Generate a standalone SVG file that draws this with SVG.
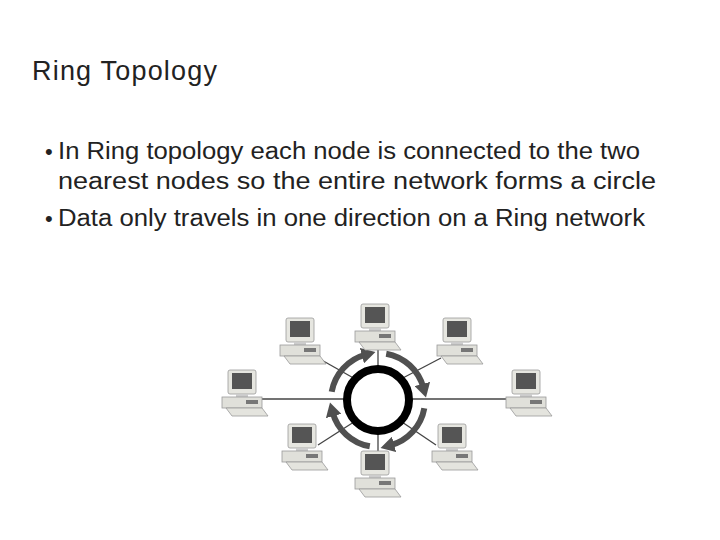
<svg xmlns="http://www.w3.org/2000/svg" width="720" height="540" viewBox="0 0 720 540">
<style>
.t{font-family:"Liberation Sans",Arial,sans-serif;fill:#222}
.arc{fill:none;stroke:#505050;stroke-width:6}
.ln{stroke:#444;stroke-width:1.3}
</style>
<defs>
<marker id="ah" markerUnits="userSpaceOnUse" markerWidth="16" markerHeight="16" refX="4" refY="8" orient="auto"><path d="M0,0 L14,8 L0,16 Z" fill="#505050"/></marker>
<g id="pc">
<rect x="-14" y="-24" width="28" height="24" rx="2" fill="#e6e6e0" stroke="#999" stroke-width="0.8"/>
<rect x="-10" y="-21" width="20" height="16" fill="#555"/>
<rect x="-6" y="0" width="12" height="3" fill="#ccc"/>
<rect x="-20" y="3" width="40" height="11" fill="#e0e0da" stroke="#999" stroke-width="0.8"/>
<rect x="4" y="6" width="12" height="4" fill="#777"/>
<path d="M-16,14 L20,14 L26,22 L-10,22 Z" fill="#e4e4de" stroke="#999" stroke-width="0.8"/>
</g>
</defs>
<rect width="720" height="540" fill="#fff"/>
<text class="t" x="32" y="80" font-size="27" textLength="185">Ring Topology</text>
<text class="t" x="45" y="159" font-size="22">•</text>
<text class="t" x="58" y="159" font-size="23" textLength="582" lengthAdjust="spacingAndGlyphs">In Ring topology each node is connected to the two</text>
<text class="t" x="58" y="189" font-size="23" textLength="598" lengthAdjust="spacingAndGlyphs">nearest nodes so the entire network forms a circle</text>
<text class="t" x="45" y="226" font-size="22">•</text>
<text class="t" x="58" y="226" font-size="23" textLength="587" lengthAdjust="spacingAndGlyphs">Data only travels in one direction on a Ring network</text>
<g id="connectors">
<line class="ln" x1="258" y1="399" x2="350" y2="399"/>
<line class="ln" x1="406" y1="399" x2="510" y2="399"/>
<line class="ln" x1="378" y1="340" x2="378" y2="372" stroke-width="2.5"/>
<line class="ln" x1="378" y1="428" x2="378" y2="452" stroke-width="2.5"/>
<line class="ln" x1="318" y1="358" x2="357" y2="380" stroke-width="1"/>
<line class="ln" x1="441" y1="358" x2="399" y2="380" stroke-width="1"/>
<line class="ln" x1="318" y1="445" x2="357" y2="420" stroke-width="1"/>
<line class="ln" x1="436" y1="445" x2="399" y2="420" stroke-width="1"/>
<path class="arc" d="M331.7,391.8 A47,47 0 0 1 365.8,354.6" marker-end="url(#ah)"/>
<path class="arc" d="M386.2,353.7 A47,47 0 0 1 423.4,387.8" marker-end="url(#ah)"/>
<path class="arc" d="M424.3,408.2 A47,47 0 0 1 390.2,445.4" marker-end="url(#ah)"/>
<path class="arc" d="M369.8,446.3 A47,47 0 0 1 332.6,412.2" marker-end="url(#ah)"/>
</g>
<g id="ring"><circle cx="378" cy="400" r="31" fill="none" stroke="#000" stroke-width="8"/></g>
<g id="pc-top"><use href="#pc" x="375" y="328"/></g>
<g id="pc-topleft"><use href="#pc" x="300" y="342"/></g>
<g id="pc-topright"><use href="#pc" x="457" y="342"/></g>
<g id="pc-left"><use href="#pc" x="242" y="394"/></g>
<g id="pc-right"><use href="#pc" x="526" y="394"/></g>
<g id="pc-bottomleft"><use href="#pc" x="302" y="448"/></g>
<g id="pc-bottomright"><use href="#pc" x="452" y="448"/></g>
<g id="pc-bottom"><use href="#pc" x="375" y="475"/></g>
</svg>
